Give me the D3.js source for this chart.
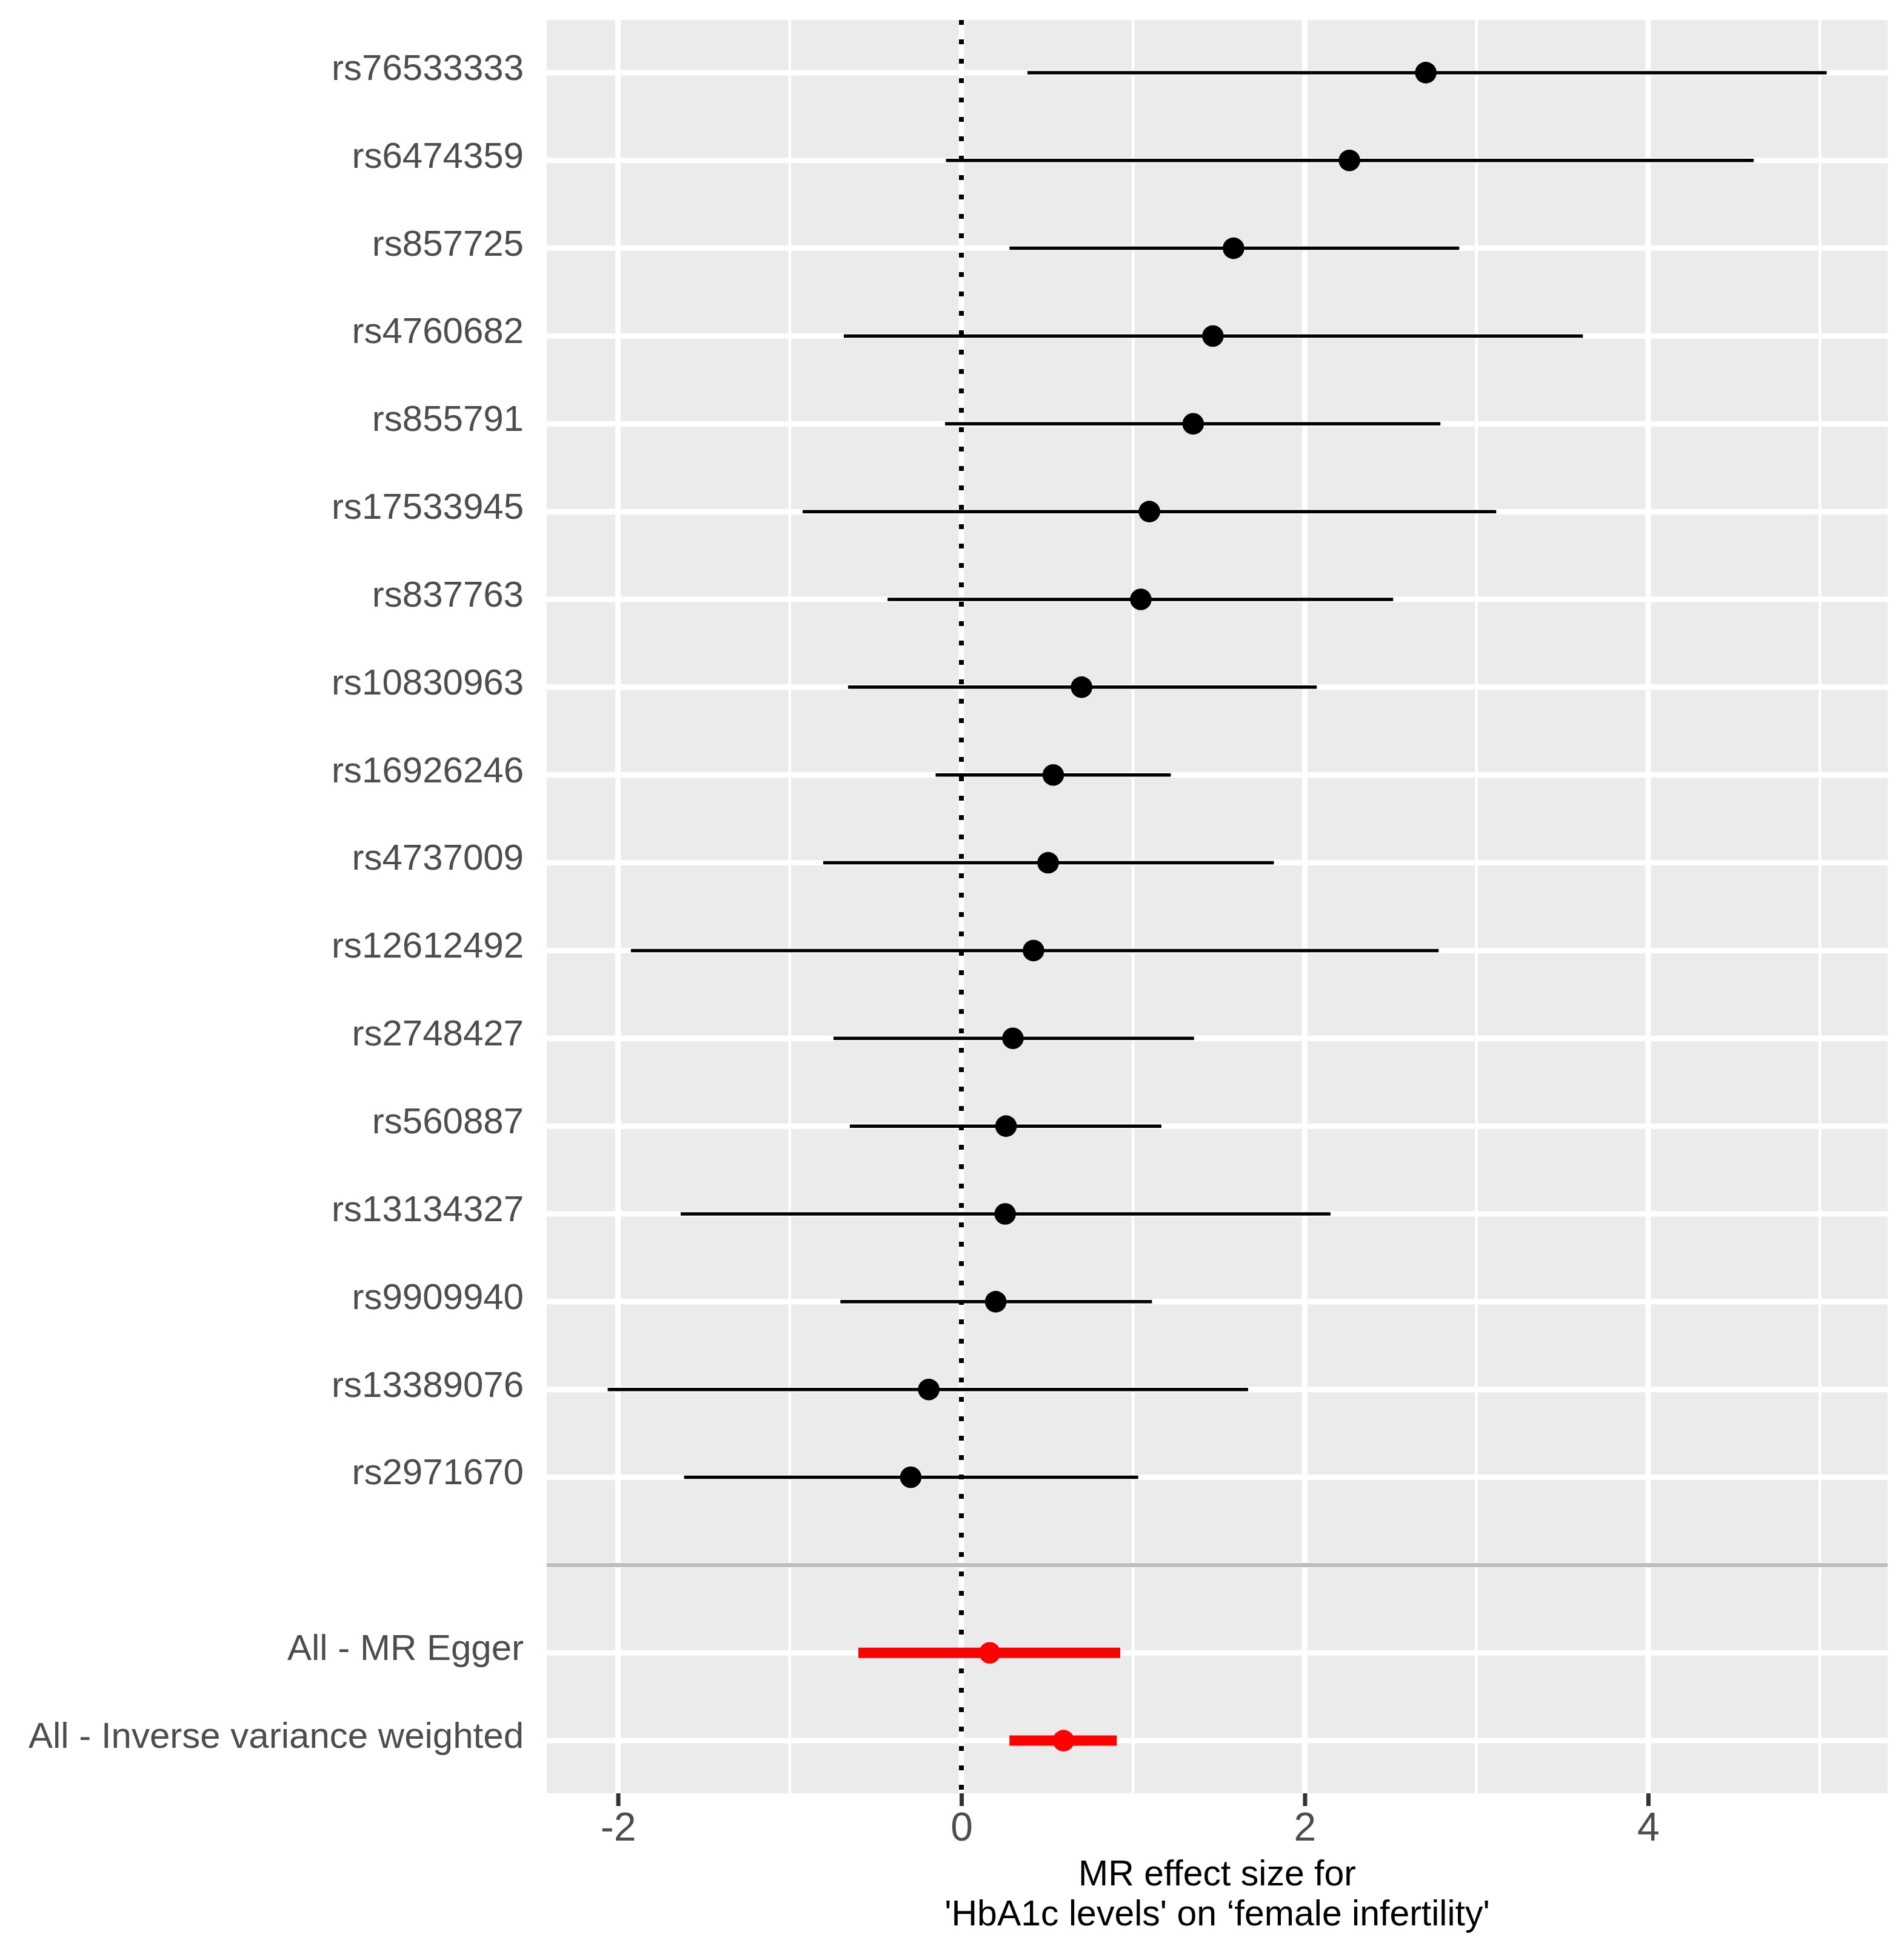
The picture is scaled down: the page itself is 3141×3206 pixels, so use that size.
<!DOCTYPE html>
<html>
<head>
<meta charset="utf-8">
<script src="https://cdn.jsdelivr.net/npm/d3@7"></script>
<style>
  html, body { margin: 0; padding: 0; background: #ffffff; }
  svg { display: block; }
</style>
</head>
<body>
<svg id="chart" width="3141" height="3206"></svg>
<script>
// ---- data (top to bottom) ----
const snps = ["rs76533333","rs6474359","rs857725","rs4760682","rs855791","rs17533945",
  "rs837763","rs10830963","rs16926246","rs4737009","rs12612492","rs2748427","rs560887",
  "rs13134327","rs9909940","rs13389076","rs2971670"];
const snpB  = [2.705, 2.26, 1.585, 1.465, 1.35, 1.095, 1.045, 0.70, 0.535, 0.505, 0.42, 0.30, 0.26, 0.255, 0.20, -0.19, -0.295];
const snpLo = [0.385, -0.09, 0.28, -0.685, -0.095, -0.925, -0.43, -0.66, -0.15, -0.805, -1.925, -0.745, -0.65, -1.635, -0.705, -2.06, -1.615];
const snpHi = [5.04, 4.615, 2.90, 3.62, 2.79, 3.115, 2.515, 2.07, 1.22, 1.82, 2.78, 1.355, 1.165, 2.15, 1.11, 1.67, 1.03];

const methods   = ["All - MR Egger", "All - Inverse variance weighted"];
const methodB   = [0.165, 0.595];
const methodLo  = [-0.60, 0.28];
const methodHi  = [0.925, 0.905];

const xTicks = [-2, 0, 2, 4];
const xTickLabels = ["-2", "0", "2", "4"];
const xMinor = [-1, 1, 3, 5];
const xTitle1 = "MR effect size for";
const xTitle2 = "'HbA1c levels' on \u2018female infertility'";

// ---- layout ----
const panel = { left: 902, right: 3114, top: 33, bottom: 2959 };
const font = "'Liberation Sans', Arial, Helvetica, sans-serif";

const rows = snps.map((s, i) => ({ label: s, b: snpB[i], lo: snpLo[i], hi: snpHi[i], summary: false }))
  .concat([{ label: "", blank: true }])
  .concat(methods.map((m, i) => ({ label: m, b: methodB[i], lo: methodLo[i], hi: methodHi[i], summary: true })));
const levels = rows.map(r => r.blank ? "__blank__" : r.label);

const allLo = d3.min(rows.filter(r => !r.blank), r => r.lo);
const allHi = d3.max(rows.filter(r => !r.blank), r => r.hi);
const span = allHi - allLo;

const x = d3.scaleLinear().domain([allLo - 0.05 * span, allHi + 0.05 * span]).range([panel.left, panel.right]);
const y = d3.scalePoint().domain(levels).range([panel.top, panel.bottom]).padding(0.6);

const svg = d3.select("#chart");

// background
svg.append("rect").attr("x", panel.left).attr("y", panel.top)
  .attr("width", panel.right - panel.left).attr("height", panel.bottom - panel.top)
  .attr("fill", "#EBEBEB");

const grid = svg.append("g");
// minor vertical
grid.selectAll("line.minor").data(xMinor.filter(v => x(v) >= panel.left && x(v) <= panel.right)).join("line")
  .attr("x1", d => x(d)).attr("x2", d => x(d)).attr("y1", panel.top).attr("y2", panel.bottom)
  .attr("stroke", "#ffffff").attr("stroke-width", 4.5);
// major vertical
grid.selectAll("line.majv").data(xTicks).join("line")
  .attr("x1", d => x(d)).attr("x2", d => x(d)).attr("y1", panel.top).attr("y2", panel.bottom)
  .attr("stroke", "#ffffff").attr("stroke-width", 9);
// major horizontal
grid.selectAll("line.majh").data(levels).join("line")
  .attr("x1", panel.left).attr("x2", panel.right).attr("y1", d => y(d)).attr("y2", d => y(d))
  .attr("stroke", "#ffffff").attr("stroke-width", 9);

// dotted zero line
svg.append("line").attr("x1", x(0)).attr("x2", x(0)).attr("y1", panel.top).attr("y2", panel.bottom)
  .attr("stroke", "#000000").attr("stroke-width", 8).attr("stroke-dasharray", "8,24");

const marks = rows.filter(r => !r.blank);
// error bars
svg.append("g").selectAll("line").data(marks).join("line")
  .attr("x1", d => x(d.lo)).attr("x2", d => x(d.hi))
  .attr("y1", d => y(d.label)).attr("y2", d => y(d.label))
  .attr("stroke", d => d.summary ? "#FF0000" : "#000000")
  .attr("stroke-width", d => d.summary ? 17 : 5.5);
// points
svg.append("g").selectAll("circle").data(marks).join("circle")
  .attr("cx", d => x(d.b)).attr("cy", d => y(d.label)).attr("r", 17.8)
  .attr("fill", d => d.summary ? "#FF0000" : "#000000");

// grey separator line at blank row
svg.append("line").attr("x1", panel.left).attr("x2", panel.right)
  .attr("y1", y("__blank__")).attr("y2", y("__blank__"))
  .attr("stroke", "#BEBEBE").attr("stroke-width", 7);

// y axis (no label for the blank separator row)
const yAxis = svg.append("g").attr("transform", `translate(${panel.left},0)`)
  .call(d3.axisLeft(y).tickValues(levels.filter(l => l !== "__blank__")).tickSize(0).tickPadding(38));
yAxis.select(".domain").remove();
yAxis.selectAll("text").attr("font-family", font).attr("font-size", 60)
  .attr("fill", "#4D4D4D").attr("dy", "0.19em");

// x axis
const xAxis = svg.append("g").attr("transform", `translate(0,${panel.bottom})`)
  .call(d3.axisBottom(x).tickValues(xTicks).tickSize(21).tickPadding(10)
    .tickFormat((d, i) => xTickLabels[i]));
xAxis.select(".domain").remove();
xAxis.selectAll(".tick line").attr("stroke", "#333333").attr("stroke-width", 7);
xAxis.selectAll("text").attr("font-family", font).attr("font-size", 66).attr("fill", "#4D4D4D");

// x title (two lines)
const cx = (panel.left + panel.right) / 2;
svg.append("text").attr("font-family", font).attr("font-size", 59)
  .attr("fill", "#000000").attr("text-anchor", "middle")
  .attr("x", cx).attr("y", 3111).text(xTitle1);
svg.append("text").attr("font-family", font).attr("font-size", 59)
  .attr("fill", "#000000").attr("text-anchor", "middle")
  .attr("x", cx).attr("y", 3177).text(xTitle2);
</script>
</body>
</html>
